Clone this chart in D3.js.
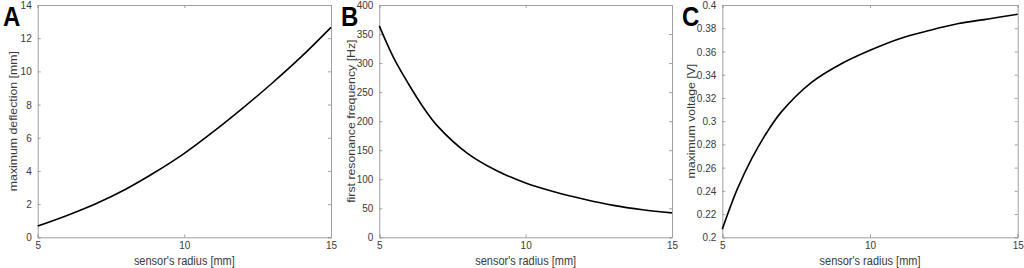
<!DOCTYPE html>
<html><head><meta charset="utf-8">
<script src="https://cdn.jsdelivr.net/npm/d3@7"></script>
<style>
html,body{margin:0;padding:0;background:#fff;}
svg{display:block;}
text{font-family:"Liberation Sans",Arial,sans-serif;}
</style></head>
<body>
<svg id="chart" width="1024" height="268"></svg>
<script>
// ---- data ----
const radiusA = [5, 6, 7, 8, 9, 10, 11, 12, 13, 14, 15];
const deflection = [0.68, 1.32, 2.04, 2.9, 3.92, 5.06, 6.38, 7.8, 9.3, 10.9, 12.65];

const radiusB = [5, 5.5, 6, 6.5, 7, 8, 9, 10, 11, 12, 13, 14, 15];
const frequency = [364, 308, 264, 224, 191, 145, 115, 93.5, 78, 65.5, 55, 47.5, 42];

const radiusC = [5, 5.5, 6, 6.5, 7, 8, 9, 10, 11, 12, 13, 14, 15];
const voltage = [0.207, 0.241, 0.268, 0.290, 0.308, 0.333, 0.349, 0.361, 0.371, 0.378, 0.384, 0.388, 0.392];

const xTicks = [5, 10, 15];
const yTicksA = [0, 2, 4, 6, 8, 10, 12, 14];
const yTicksB = [0, 50, 100, 150, 200, 250, 300, 350, 400];
const yTicksC = [0.2, 0.22, 0.24, 0.26, 0.28, 0.3, 0.32, 0.34, 0.36, 0.38, 0.4];

const panels = [
  {letter: "A", x: radiusA, y: deflection, yDomain: [0, 14], yTicks: yTicksA,
   yLabel: "maximum deflection [mm]", left: 37.7, right: 331, letterX: 3, labelX: 17},
  {letter: "B", x: radiusB, y: frequency, yDomain: [0, 400], yTicks: yTicksB,
   yLabel: "first resonance frequency [Hz]", left: 379.3, right: 672, letterX: 341, labelX: 355},
  {letter: "C", x: radiusC, y: voltage, yDomain: [0.2, 0.4], yTicks: yTicksC,
   yLabel: "maximum voltage [V]", left: 722.3, right: 1017.7, letterX: 682, labelX: 695}
];

const svg = d3.select("#chart");
const plotTop = 5, plotBottom = 237.3;
const boxColor = "#a0a0a0", textColor = "#3a3a3a";
const stretch = 1.12;

panels.forEach(p => {
  const x = d3.scaleLinear().domain([5, 15]).range([p.left, p.right]);
  const y = d3.scaleLinear().domain(p.yDomain).range([plotBottom, plotTop]);
  const g = svg.append("g");

  const styleAxis = (sel, showLabels) => {
    sel.select(".domain").attr("stroke", boxColor).attr("stroke-width", 1);
    sel.selectAll(".tick line").attr("stroke", boxColor).attr("stroke-width", 1);
    sel.selectAll(".tick text").attr("fill", textColor)
       .style("font-size", "10px").style("font-family", '"Liberation Sans",Arial,sans-serif')
       .attr("transform", `scale(1,${stretch})`);
    if (!showLabels) sel.selectAll(".tick text").remove();
  };

  const fmt = d => d3.format("~g")(d);
  g.append("g").attr("transform", `translate(0,${plotBottom})`)
    .call(d3.axisBottom(x).tickValues(xTicks).tickSize(-3).tickPadding(3).tickFormat(fmt))
    .call(s => styleAxis(s, true));
  g.append("g").attr("transform", `translate(0,${plotTop})`)
    .call(d3.axisTop(x).tickValues(xTicks).tickSize(-3))
    .call(s => styleAxis(s, false));
  g.append("g").attr("transform", `translate(${p.left},0)`)
    .call(d3.axisLeft(y).tickValues(p.yTicks).tickSize(-3).tickPadding(6).tickFormat(fmt))
    .call(s => styleAxis(s, true));
  g.append("g").attr("transform", `translate(${p.right},0)`)
    .call(d3.axisRight(y).tickValues(p.yTicks).tickSize(-3))
    .call(s => styleAxis(s, false));

  const pts = p.x.map((v, i) => [v, p.y[i]]);
  g.append("path").datum(pts)
    .attr("fill", "none").attr("stroke", "#000").attr("stroke-width", 1.6)
    .attr("d", d3.line().x(d => x(d[0])).y(d => y(d[1])).curve(d3.curveCatmullRom.alpha(0.5)));

  g.append("text").attr("transform", `translate(${(p.left + p.right) / 2},264.5) scale(1,${stretch})`)
    .attr("text-anchor", "middle").attr("fill", textColor)
    .style("font-size", "11px").text("sensor's radius [mm]");
  g.append("text").attr("transform", `translate(${p.labelX},${(plotTop + plotBottom) / 2}) scale(1,${stretch}) rotate(-90)`)
    .attr("text-anchor", "middle").attr("fill", textColor)
    .style("font-size", "11px").text(p.yLabel);
  g.append("text").attr("transform", `translate(${p.letterX},26) scale(1,${stretch})`)
    .attr("fill", "#000").style("font-size", "24px").style("font-weight", "bold")
    .text(p.letter);
});
</script>
</body></html>
